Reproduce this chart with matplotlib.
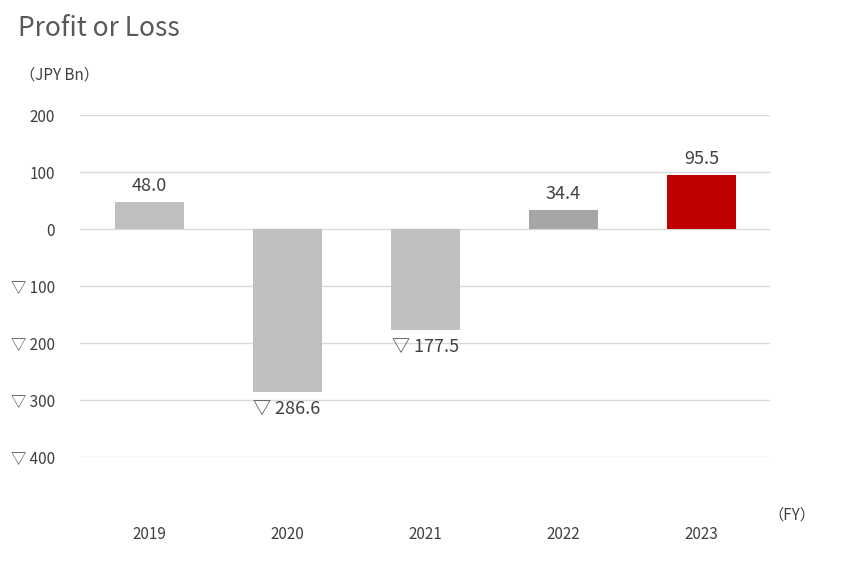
import matplotlib

matplotlib.use("Agg")

import matplotlib.pyplot as plt

plt.rcParams["font.family"] = "Noto Sans CJK JP"

years = ["2019", "2020", "2021", "2022", "2023"]
profit = [48.0, -286.6, -177.5, 34.4, 95.5]
colors = ["#bfbfbf", "#bfbfbf", "#bfbfbf", "#a6a6a6", "#c00000"]
y_ticks = [200, 100, 0, -100, -200, -300, -400]


def fmt(v):
    return f"{v:.1f}" if v >= 0 else f"▽ {abs(v):.1f}"


def fmt_tick(v):
    return str(v) if v >= 0 else f"▽ {abs(v)}"


fig = plt.figure(figsize=(8.63, 5.62), dpi=100)
ax = fig.add_axes([0.0927, 0.187, 0.8, 0.608])

for t in y_ticks:
    ax.axhline(t, color="#d9d9d9", linewidth=1, zorder=0)

x = list(range(len(years)))
ax.bar(x, profit, width=0.5, color=colors, zorder=2)

for xi, v in zip(x, profit):
    if v >= 0:
        ax.text(xi, v + 12, fmt(v), ha="center", va="bottom", fontsize=13, color="#404040")
    else:
        ax.text(xi, v - 14, fmt(v), ha="center", va="top", fontsize=13, color="#404040")

ax.set_xlim(-0.5, len(years) - 0.5)
ax.set_ylim(-400, 200)
ax.set_yticks(y_ticks)
ax.set_yticklabels([fmt_tick(t) for t in y_ticks], fontsize=11, color="#404040")
ax.set_xticks(x)
ax.set_xticklabels(years, fontsize=11, color="#404040")
ax.tick_params(axis="x", length=0, pad=50)
ax.tick_params(axis="y", length=0, pad=18)
for s in ax.spines.values():
    s.set_visible(False)

fig.text(0.021, 0.95, "Profit or Loss", fontsize=19, color="#595959", va="center")
fig.text(0.023, 0.866, "（JPY Bn）", fontsize=11, color="#404040", va="center")
fig.text(0.89, 0.083, "（FY）", fontsize=11, color="#404040", va="center")

fig.savefig("out.png", dpi=100)
